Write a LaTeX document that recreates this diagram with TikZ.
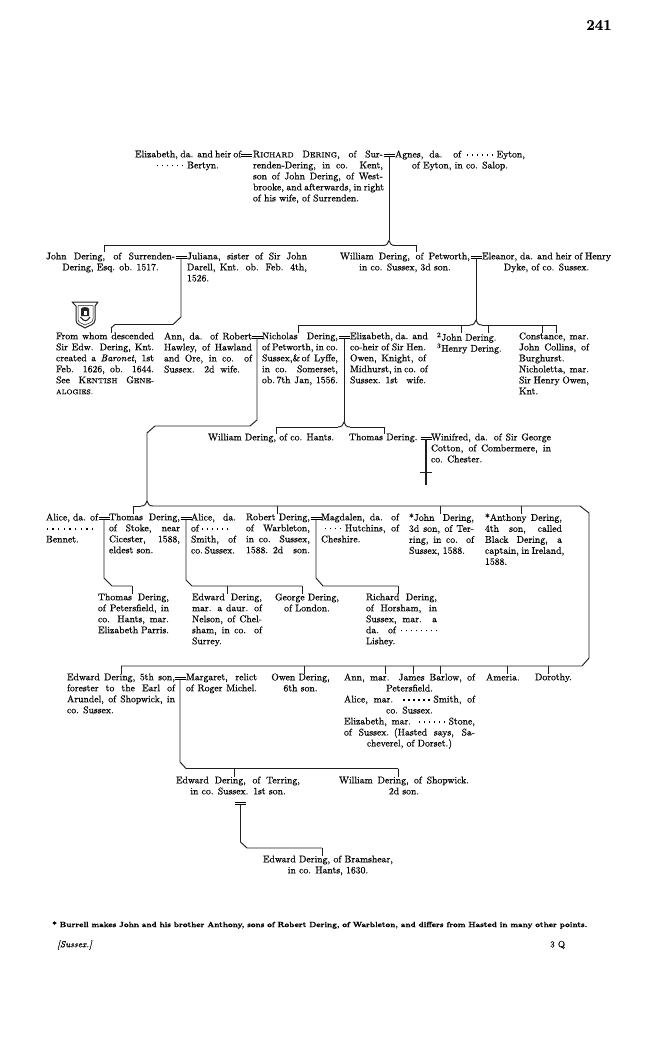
\documentclass[tikz,border=0pt]{standalone}
\usepackage{fontspec}
\setmainfont{Latin Modern Roman}[FakeBold=0.45]
\newcommand\J[2]{\makebox[#1pt][s]{#2}}
\newcommand\C[2]{\makebox[#1pt][c]{#2}}
\newcommand\Dd{\rule[1.9pt]{1.3pt}{1.3pt}}
\newcommand\Dt{\Dd\kern3.7pt}
\newcommand\Ds{\Dt\Dt\Dt\Dt\Dt\Dt}
\newcommand\Sm[1]{{\fontsize{7.3}{11}\selectfont #1}}
\tikzset{
  x=1pt,y=-1pt,
  tx/.style={anchor=north west,inner sep=0pt,outer sep=0pt,yshift=4.5pt,align=left,
    font={\fontsize{9.7}{11}\selectfont},text=black},
  eqs/.style={inner sep=0pt,outer sep=0pt},
  ln/.style={draw=black!88,line width=0.95pt,line join=round},
  dp/.style={draw=black!88,line width=0.75pt}
}
\newcommand\T[4]{\node[tx] (#1) at (#2,#3) {#4};}
\newcommand\M[3]{\node[eqs] (#1) at (#2,#3) {\vbox{\hrule width 11pt height .6pt\kern1.3pt\hrule width 11pt height .6pt}};}
\newcommand\Dp[3]{\draw[dp] (#1,0 |- #2) -- (#1,0 |- #3.north);}
\newcommand\Br[1]{\draw[ln,shift={(#1)}] (-6,0) .. controls (-2,0) and (-1,-2) .. (0,-5) .. controls (1,-2) and (2,0) .. (6,0);}
\begin{document}
\begin{tikzpicture}
\useasboundingbox (0,0) rectangle (650,1040);
\fill[white] (0,0) rectangle (650,1040);

% page number
\node[inner sep=0pt,font={\fontsize{15}{16}\selectfont\bfseries}] (pg) at (599,25) {241};

% generation 1
\T{eliz}{135}{155}{\J{106}{Elizabeth, da. and heir of}\\\C{106}{\Ds Bertyn.}}
\M{m0}{246.5}{155}
\T{rich}{253}{155}{\J{130}{R\Sm{ICHARD} D\Sm{ERING}, of Sur-}\\\J{130}{renden-Dering, in co. Kent,}\\\J{130}{son of John Dering, of West-}\\\J{130}{brooke, and afterwards, in right}\\of his wife, of Surrenden.}
\M{m1}{389}{155}
\T{agn}{395}{155}{\J{130}{Agnes, da. of \Ds Eyton,}\\\C{130}{of Eyton, in co. Salop.}}

% generation 2
\T{john}{46}{257}{\J{129}{John Dering, of Surrenden-}\\\C{129}{Dering, Esq. ob. 1517.}}
\M{m2}{181}{257}
\T{jul}{187}{257}{\J{120}{Juliana, sister of Sir John}\\\J{120}{Darell, Knt. ob. Feb. 4th,}\\1526.}
\T{will}{340}{257}{\J{130}{William Dering, of Petworth,}\\\C{130}{in co. Sussex, 3d son.}}
\M{m3}{476}{257}
\T{elea}{482}{257}{\J{129}{Eleanor, da. and heir of Henry}\\\C{129}{Dyke, of co. Sussex.}}

% shield
\begin{scope}
\draw[ln,line width=1pt,fill=white] (72,302) -- (98,302) -- (95,306) -- (95,320) .. controls (95,325) and (89,325) .. (85,328) .. controls (81,325) and (76,325) .. (76,320) -- (76,306) -- cycle;
\draw[dp,line width=.5pt] (78,305.5) -- (93,305.5) -- (93,319) .. controls (93,323) and (88,323) .. (85,325) .. controls (82,323) and (78,323) .. (78,319) -- cycle;
\fill[black!85] (81,316) -- (81,309) .. controls (81,306.5) and (89,306.5) .. (89,309) -- (89,316) -- cycle;
\draw[black!85,line width=1.1pt] (80.5,317) .. controls (84,322) and (87,322) .. (90,317);
\fill[white] (83.5,311) rectangle (87,314.5);
\end{scope}

% generation 3
\T{from}{56}{337}{\J{98}{From whom descended}\\\J{98}{Sir Edw. Dering, Knt.}\\\J{98}{created a \textit{Baronet}, 1st}\\\J{98}{Feb. 1626, ob. 1644.}\\\J{98}{See K\Sm{ENTISH} G\Sm{ENE-}}\\{\fontsize{6.8}{11}\selectfont ALOGIES.}}
\T{ann}{164}{337}{\J{88}{Ann, da. of Robert}\\\J{88}{Hawley, of Hawland}\\\J{88}{and Ore, in co. of}\\\J{76}{Sussex.\quad 2d wife.}}
\M{m4}{257}{337}
\T{nich}{262}{337}{\J{76}{Nicholas Dering,}\\\J{76}{of Petworth, in co.}\\\J{76}{Sussex,\&\,of Lyffe,}\\\J{76}{in co. Somerset,}\\\J{76}{ob.\,7th Jan, 1556.}}
\M{m5}{344}{337}
\T{eliz2}{350}{337}{\J{76}{Elizabeth, da. and}\\\J{76}{co-heir of Sir Hen.}\\\J{76}{Owen, Knight, of}\\\J{76}{Midhurst, in co. of}\\\J{76}{Sussex.\enspace 1st wife.}}
\T{john2}{437}{337}{\textsuperscript{2}John Dering.\\\textsuperscript{3}Henry Dering.}
\T{cons}{519}{337}{\J{70}{Constance, mar.}\\\J{70}{John Collins, of}\\Burghurst.\\\J{70}{Nicholetta, mar.}\\\J{70}{Sir Henry Owen,}\\Knt.}

% generation 4
\T{willh}{208}{438}{William Dering, of co. Hants.}
\T{thw}{349}{438}{Thomas Dering.}
\M{m6}{426}{438}
\T{win}{431}{438}{\J{120}{Winifred, da. of Sir George}\\\J{120}{Cotton, of Combermere, in}\\co. Chester.}

% generation 5
\T{alice}{46}{518}{\J{52}{Alice, da. of}\\\kern.5pt\Dd\kern4.4pt\Dd\kern4.4pt\Dd\kern4.4pt\Dd\kern4.4pt\Dd\kern4.4pt\Dd\kern4.4pt\Dd\kern4.4pt\Dd\kern4.4pt\Dd\\Bennet.}
\M{m7}{104}{518}
\T{thos}{109}{518}{\J{71}{Thomas Dering,}\\\J{71}{of Stoke, near}\\\J{71}{Cicester, 1588,}\\eldest son.}
\M{m8}{186}{518}
\T{alice2}{191}{518}{\J{45}{Alice, da.}\\of \Ds\\\J{45}{Smith, of}\\\J{45}{co.\,Sussex.}}
\T{rob}{246}{518}{\J{64}{Robert Dering,}\\\J{64}{of Warbleton,}\\\J{64}{in co. Sussex,}\\\J{64}{1588.\enspace 2d son.}}
\M{m9}{316}{518}
\T{magd}{321}{518}{\J{78}{Magdalen, da. of}\\\J{78}{\kern4pt\Dt\Dt\Dt\Dt Hutchins, of}\\Cheshire.}
\T{john3}{409}{518}{\J{65}{*John Dering,}\\\J{65}{3d son, of Ter-}\\\J{65}{ring, in co. of}\\Sussex, 1588.}
\T{anth}{485}{518}{\J{77}{*Anthony Dering,}\\\J{77}{4th son, called}\\\J{77}{Black Dering, a}\\\J{77}{captain, in Ireland,}\\1588.}

% generation 6
\T{thp}{98}{598}{\J{71}{Thomas Dering,}\\\J{71}{of Petersfield, in}\\\J{71}{co. Hants, mar.}\\\J{71}{Elizabeth Parris.}}
\T{edw}{192}{598}{\J{70}{Edward Dering,}\\\J{70}{mar. a daur. of}\\\J{70}{Nelson, of Chel-}\\\J{70}{sham, in co. of}\\Surrey.}
\T{geo}{273}{598}{\C{68}{George Dering,}\\\C{68}{of London.}}
\T{ric}{366}{598}{\J{71}{Richard Dering,}\\\J{71}{of Horsham, in}\\\J{71}{Sussex, mar. a}\\\J{71}{da. of \Dt\Dt\Dt\Dt\Dt\Dt\Dt\Dd}\\Lishey.}

% generation 7
\T{ed5}{67}{678}{\J{108}{Edward Dering, 5th son,}\\\J{108}{forester to the Earl of}\\\J{108}{Arundel, of Shopwick, in}\\co. Sussex.}
\M{m10}{180}{678}
\T{marg}{186}{678}{\J{71}{Margaret, relict}\\\J{71}{of Roger Michel.}}
\T{owen}{268}{678}{\C{65}{Owen Dering,}\\\C{65}{6th son.}}
\T{annb}{344}{678}{\J{131}{Ann, mar. James Barlow, of}\\\C{131}{Petersfield.}\\\J{131}{Alice, mar. \Ds Smith, of}\\\C{131}{co. Sussex.}\\\J{131}{Elizabeth, mar. \Ds Stone,}\\\J{131}{of Sussex.\enspace (Hasted says, Sa-}\\\C{131}{cheverel, of Dorset.)}}
\T{amer}{486}{678}{Ameria.}
\T{doro}{535}{678}{Dorothy.}

% generation 8
\T{edt}{176}{781}{\J{124}{Edward Dering, of Terring,}\\\C{124}{in co. Sussex.\enspace 1st son.}}
\T{wils}{339}{781}{\J{130}{William Dering, of Shopwick.}\\\C{130}{2d son.}}
\M{m11}{240.5}{803}
\T{edb}{263}{860}{\J{130}{Edward Dering, of Bramshear,}\\\C{130}{in co. Hants, 1630.}}

% foot
\node[anchor=west,inner sep=0pt,font={\fontsize{7.6}{9}\selectfont\bfseries}] (fn) at (52,925) {\makebox[535pt][s]{* Burrell makes John and his brother Anthony, sons of Robert Dering, of Warbleton, and differs from Hasted in many other points.}};
\node[anchor=west,inner sep=0pt,font={\fontsize{9}{10}\selectfont\itshape}] (sx) at (57,945) {[Sussex.]};
\node[anchor=west,inner sep=0pt,font={\fontsize{9}{10}\selectfont}] (q) at (550,945) {3 Q};

% --- connectors ---
\coordinate (b1) at (389,245.5);
\draw[ln] (m1.south) -- (389,240);
\draw[ln] (104,250.5) -- (104,0 |- b1) -- (383,0 |- b1);
\draw[ln] (395,0 |- b1) -- (416,0 |- b1);
\Br{b1}
\Dp{104}{b1}{john}
\Dp{416}{b1}{will}

\coordinate (b2) at (173,324.5);
\draw[ln] (m2.south) -- (181,317) -- (b2) -- (115,324.5) -- (111,328);
\Dp{111}{328,328}{from}

\coordinate (b3) at (476,325);
\draw[ln] (m3.south) -- (476,320);
\draw[ln] (298,0 |- b3) -- (470,0 |- b3);
\draw[ln] (482,0 |- b3) -- (556,0 |- b3);
\Br{b3}
\Dp{298}{b3}{nich}
\Dp{461}{b3}{john2}
\Dp{488}{b3}{john2}
\Dp{542}{b3}{cons}
\Dp{556}{b3}{cons}

\coordinate (b4) at (344,427);
\draw[ln] (m5.south) -- (344,422);
\draw[ln] (276,0 |- b4) -- (338,0 |- b4);
\draw[ln] (350,0 |- b4) -- (384,0 |- b4);
\Br{b4}
\Dp{276}{b4}{willh}
\Dp{384}{b4}{thw}

\coordinate (b5) at (147,506);
\draw[ln] (m4.south) -- (257,420) -- (250,426) -- (155,426) -- (147,433) -- (147,501);
\Br{b5}
\draw[ln] (133,0 |- b5) -- (141,0 |- b5);
\draw[ln] (153,0 |- b5) -- (580,0 |- b5) -- (589,513) -- (589,658) -- (582,666) -- (121,666);
\Dp{133}{b5}{thos}
\Dp{277}{b5}{rob}
\Dp{440}{b5}{john3}
\Dp{521}{b5}{anth}
\coordinate (b6) at (304,666);
\Dp{121}{b6}{ed5}
\Dp{304}{b6}{owen}
\Dp{385}{b6}{annb}
\Dp{413}{b6}{annb}
\Dp{440}{b6}{annb}
\Dp{507}{b6}{amer}
\Dp{548}{b6}{doro}

% Winifred line with dagger
\coordinate (dg) at (426,485);
\draw[ln,line width=1.2pt] (m6.south) -- (dg);
\draw[ln,line width=1pt] (420,472) -- (431.5,472);

% Thomas' issue
\coordinate (b7) at (132,586);
\draw[ln] (m7.south) -- (104,578) -- (112,586) -- (b7);
\Dp{132}{b7}{thp}
\coordinate (b8) at (227,586);
\draw[ln] (m8.south) -- (186,580) -- (192,586) -- (302,586);
\Dp{227}{b8}{edw}
\Dp{302}{b8}{geo}
\coordinate (b9) at (398,586);
\draw[ln] (m9.south) -- (316,578) -- (323,586) -- (b9);
\Dp{398}{b9}{ric}

% Edward's issue
\coordinate (b10) at (234,768.5);
\draw[ln] (m10.south) -- (180,762) -- (186,768.5) -- (398,768.5);
\Dp{234}{b10}{edt}
\Dp{398}{b10}{wils}

\coordinate (b11) at (322,848);
\draw[ln] (m11.south) -- (240.5,842) -- (247,848) -- (b11);
\Dp{322}{b11}{edb}
\end{tikzpicture}
\end{document}
